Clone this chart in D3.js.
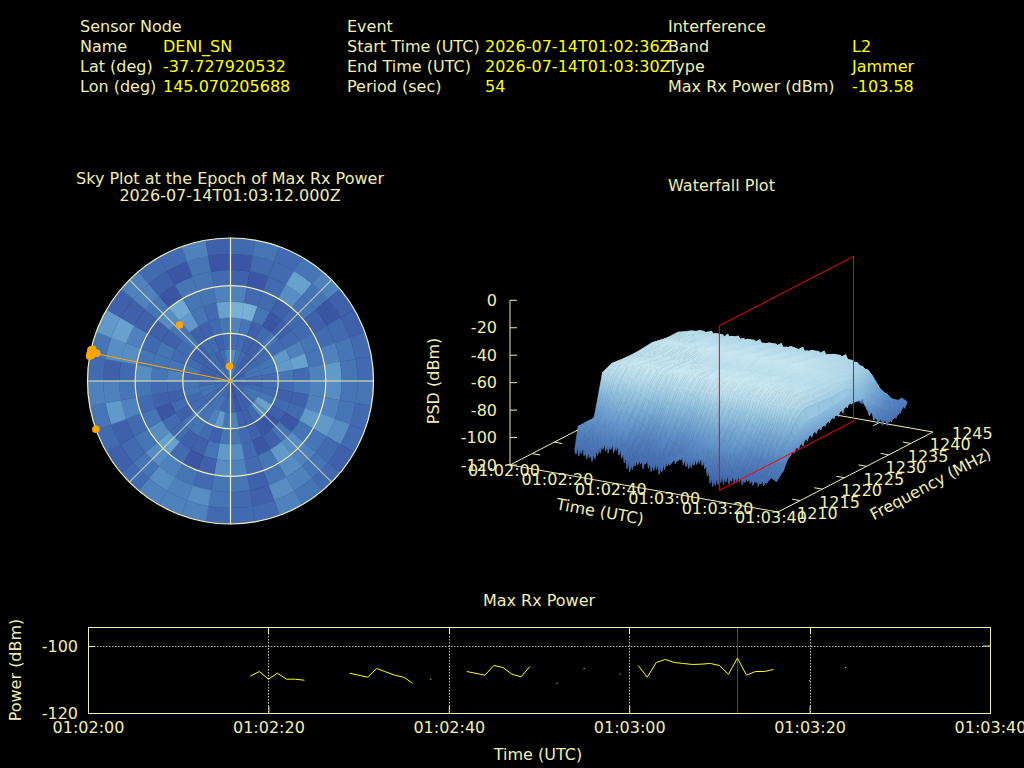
<!DOCTYPE html>
<html>
<head>
<meta charset="utf-8">
<script src="https://cdn.jsdelivr.net/npm/d3@7"></script>
<style>
html, body { margin: 0; padding: 0; background: #000; overflow: hidden; }
text { font-family: "DejaVu Sans", sans-serif; font-size: 16px; fill: #f0eeb0; }
</style>
</head>
<body>
<div id="chart"></div>
<script>
// header table
var headerCols = [
    [["Sensor Node", ""], ["Name", "DENI_SN"], ["Lat (deg)", "-37.727920532"], ["Lon (deg)", "145.070205688"]],
    [["Event", ""], ["Start Time (UTC)", "2026-07-14T01:02:36Z"], ["End Time (UTC)", "2026-07-14T01:03:30Z"], ["Period (sec)", "54"]],
    [["Interference", ""], ["Band", "L2"], ["Type", "Jammer"], ["Max Rx Power (dBm)", "-103.58"]]
];

// max rx power, seconds after 01:02:00
var powerSegments = [
    {t: [18, 19, 20, 21, 22, 23, 24], v: [-109.0, -107.6, -109.9, -108.1, -109.9, -109.9, -110.2]},
    {t: [29, 31, 32, 33, 34, 35, 36], v: [-108.1, -109.3, -106.7, -107.7, -108.7, -109.3, -111.1]},
    {t: [42, 44, 45, 46, 47, 48, 49], v: [-107.6, -108.7, -105.8, -106.4, -108.4, -109.2, -106.1]},
    {t: [61, 62, 63, 64, 65, 66, 67, 68, 69, 70, 71, 72, 73, 74, 75, 76],
     v: [-105.8, -109.3, -104.9, -104.0, -104.9, -105.2, -105.5, -105.4, -105.2, -105.8, -108.4, -103.6, -108.7, -107.6, -107.6, -107.0]}
];
var powerDotT = [38, 52, 55, 59, 80, 84];
var powerDotV = [-109.9, -111.1, -106.7, -108.4, -110.3, -106.4];
var maxEpoch = 72;

var timeTicks = [0, 20, 40, 60, 80, 100];
var timeLabels = ["01:02:00", "01:02:20", "01:02:40", "01:03:00", "01:03:20", "01:03:40"];
var psdTicks = [0, -20, -40, -60, -80, -100, -120];
var freqTicks = [1210, 1215, 1220, 1225, 1230, 1235, 1240, 1245];

// sky plot, one row per elevation band (centre first), one column per 10 deg of azimuth
var skyLevels = [
    [6,4,2,2,1,2,1,2,3,2,1,2,2,1,1,1,0,1,1,2,2,3,2,1,3,2,2,3,2,2,1,2,3,2,3,6],
    [5,3,2,1,1,2,3,3,2,1,2,3,3,2,1,1,0,1,2,2,3,3,2,2,3,3,2,2,1,1,1,2,2,1,2,4],
    [2,2,1,1,2,2,3,3,2,2,2,3,7,5,2,1,1,4,3,6,4,3,3,2,2,3,3,2,3,2,1,1,2,2,1,2],
    [4,3,1,2,3,2,6,6,3,2,1,2,1,0,0,1,2,3,3,1,2,3,3,1,2,1,2,4,3,2,2,3,1,1,2,3],
    [9,9,3,0,1,2,4,7,2,3,1,2,0,3,1,0,2,5,6,3,1,1,2,2,0,1,2,3,3,3,1,3,6,3,2,7],
    [4,2,2,1,2,2,3,3,4,4,4,6,3,5,6,3,2,4,5,1,0,2,7,5,3,2,3,5,3,2,1,5,8,3,3,4],
    [1,0,2,5,3,1,2,4,6,5,4,6,3,4,5,3,1,3,3,2,3,4,5,3,2,4,3,2,5,4,1,3,0,3,3,2],
    [0,2,2,7,3,0,2,3,3,3,3,5,2,3,4,5,1,2,3,5,4,5,3,2,1,6,4,1,5,7,1,4,1,0,3,0],
    [2,3,2,3,4,1,1,2,2,3,2,2,1,2,3,4,2,2,2,4,4,4,2,1,2,3,4,2,3,6,1,4,2,2,4,1]
];

// waterfall surface: PSD (dBm), one row per waterT, one column per waterFreq
var waterT = [18,19,20,21,22,23,24,25,26,27,28,29,30,31,32,33,34,35,36,37,38,39,40,41,42,43,44,45,46,47,48,49,50,51,52,53,54,55,
    56,57,58,59,60,61,62,63,64,65,66,67,68,69,70,71,72,73,74,75,76,77,78,79,80,81,82,83,84,85,86,87,88,89,90,91,92];
var waterFreq = [1214.5,1216,1217,1218,1219,1220,1222,1225,1228,1231,1234,1237,1240,1241,1242,1243,1244];
var waterPsd = [
    [-93,-93,-93,-94,-79,-63,-60,-61,-61,-60,-62,-62,-66,-70,-88,-100,-106],
    [-95,-92,-92,-91,-78,-64,-59,-60,-62,-59,-61,-63,-66,-68,-87,-99,-107],
    [-96,-92,-90,-89,-77,-64,-59,-60,-62,-59,-61,-63,-66,-68,-86,-99,-107],
    [-99,-94,-91,-87,-78,-66,-60,-61,-61,-60,-62,-62,-65,-67,-87,-101,-105],
    [-100,-93,-88,-85,-76,-65,-58,-61,-60,-60,-62,-61,-65,-68,-87,-101,-105],
    [-97,-90,-85,-82,-74,-64,-59,-59,-62,-58,-61,-62,-66,-69,-85,-100,-108],
    [-102,-95,-90,-85,-78,-68,-60,-60,-61,-59,-62,-63,-65,-66,-86,-99,-106],
    [-98,-91,-85,-80,-73,-65,-58,-59,-62,-58,-61,-62,-66,-69,-85,-100,-107],
    [-103,-96,-89,-84,-77,-68,-59,-60,-61,-59,-63,-62,-66,-67,-86,-98,-106],
    [-99,-91,-84,-79,-72,-64,-57,-59,-60,-58,-62,-63,-65,-70,-87,-100,-105],
    [-96,-88,-82,-77,-71,-63,-57,-60,-62,-58,-62,-63,-65,-67,-88,-101,-107],
    [-100,-92,-86,-81,-74,-66,-59,-60,-61,-59,-61,-62,-66,-69,-87,-99,-106],
    [-95,-89,-83,-78,-72,-65,-58,-59,-60,-59,-61,-62,-67,-66,-87,-99,-105],
    [-98,-91,-85,-79,-73,-65,-57,-60,-62,-58,-60,-63,-66,-69,-86,-100,-106],
    [-94,-86,-81,-76,-70,-62,-56,-60,-63,-57,-60,-64,-66,-67,-86,-100,-106],
    [-99,-92,-86,-80,-74,-66,-58,-59,-62,-58,-61,-63,-65,-69,-85,-98,-107],
    [-96,-88,-83,-78,-71,-63,-57,-59,-62,-58,-61,-63,-65,-66,-85,-98,-107],
    [-101,-94,-88,-82,-75,-67,-59,-58,-61,-59,-62,-62,-66,-70,-86,-99,-106],
    [-100,-92,-85,-80,-74,-66,-58,-58,-61,-58,-62,-62,-66,-67,-87,-99,-106],
    [-104,-97,-90,-84,-77,-69,-60,-59,-60,-59,-60,-64,-67,-70,-88,-100,-105],
    [-102,-95,-88,-82,-76,-68,-59,-59,-60,-59,-60,-64,-67,-68,-88,-100,-105],
    [-106,-99,-92,-86,-79,-71,-61,-60,-62,-57,-61,-63,-65,-70,-86,-101,-107],
    [-105,-98,-91,-85,-78,-69,-58,-60,-62,-57,-61,-63,-65,-67,-86,-101,-107],
    [-108,-101,-94,-88,-81,-72,-60,-58,-63,-58,-60,-62,-66,-69,-85,-99,-106],
    [-106,-100,-92,-86,-79,-70,-57,-58,-63,-58,-60,-62,-66,-66,-85,-99,-106],
    [-107,-99,-91,-84,-76,-67,-58,-59,-61,-59,-62,-64,-66,-70,-87,-98,-105],
    [-104,-96,-88,-82,-74,-66,-56,-59,-61,-59,-62,-64,-66,-68,-87,-98,-105],
    [-106,-98,-91,-85,-77,-69,-59,-60,-60,-58,-61,-63,-67,-69,-86,-100,-107],
    [-102,-95,-88,-82,-75,-67,-58,-60,-60,-58,-61,-63,-67,-67,-86,-100,-107],
    [-104,-97,-89,-83,-75,-66,-57,-58,-62,-57,-60,-62,-65,-70,-88,-99,-106],
    [-100,-92,-86,-80,-73,-65,-57,-58,-62,-57,-60,-62,-65,-67,-88,-99,-106],
    [-103,-96,-89,-83,-75,-67,-59,-59,-63,-58,-61,-64,-66,-69,-85,-101,-105],
    [-101,-94,-87,-81,-74,-66,-58,-59,-63,-58,-61,-64,-66,-66,-85,-101,-105],
    [-105,-98,-90,-84,-77,-69,-60,-60,-61,-59,-62,-63,-67,-70,-87,-100,-107],
    [-103,-96,-89,-83,-76,-68,-59,-60,-61,-59,-62,-63,-67,-68,-87,-100,-107],
    [-107,-100,-92,-86,-79,-71,-60,-58,-62,-57,-60,-62,-66,-69,-86,-98,-106],
    [-105,-98,-90,-85,-78,-69,-58,-58,-62,-57,-60,-62,-66,-67,-86,-98,-106],
    [-104,-97,-89,-83,-75,-65,-56,-59,-60,-58,-61,-64,-65,-70,-87,-99,-105],
    [-102,-95,-87,-81,-73,-64,-56,-59,-60,-58,-61,-64,-65,-68,-87,-99,-105],
    [-101,-94,-87,-81,-74,-65,-57,-60,-63,-59,-62,-63,-66,-69,-85,-101,-106],
    [-99,-92,-85,-79,-72,-63,-57,-60,-63,-59,-62,-63,-66,-66,-85,-101,-106],
    [-100,-93,-86,-79,-72,-63,-58,-58,-61,-57,-60,-62,-67,-70,-88,-100,-107],
    [-97,-90,-83,-77,-70,-62,-58,-58,-61,-57,-60,-62,-67,-68,-88,-100,-107],
    [-99,-92,-85,-79,-71,-62,-56,-59,-62,-58,-61,-63,-66,-69,-86,-99,-105],
    [-95,-88,-82,-76,-69,-60,-56,-59,-62,-58,-61,-63,-66,-67,-86,-99,-105],
    [-98,-91,-85,-79,-72,-62,-57,-60,-60,-59,-62,-64,-65,-70,-87,-98,-106],
    [-93,-87,-81,-76,-70,-61,-57,-60,-60,-59,-62,-64,-65,-67,-87,-98,-106],
    [-96,-90,-84,-78,-71,-61,-56,-58,-63,-57,-60,-62,-66,-69,-85,-100,-107],
    [-90,-85,-80,-75,-68,-60,-56,-58,-63,-57,-60,-62,-66,-66,-85,-100,-107],
    [-95,-89,-83,-77,-71,-62,-58,-59,-61,-58,-61,-63,-67,-70,-88,-101,-105],
    [-91,-86,-81,-75,-70,-62,-58,-59,-61,-58,-61,-63,-67,-68,-88,-101,-105],
    [-96,-90,-84,-78,-72,-64,-57,-60,-62,-59,-62,-64,-66,-69,-86,-99,-106],
    [-92,-87,-82,-77,-72,-63,-57,-60,-62,-59,-62,-64,-66,-67,-86,-99,-106],
    [-97,-91,-85,-80,-73,-64,-58,-58,-60,-57,-60,-62,-65,-70,-87,-100,-107],
    [-93,-88,-83,-78,-73,-62,-58,-58,-60,-57,-60,-62,-65,-67,-87,-100,-107],
    [-94,-88,-83,-77,-71,-61,-56,-59,-63,-58,-61,-63,-66,-69,-85,-98,-105],
    [-91,-85,-81,-75,-70,-60,-56,-59,-63,-58,-61,-63,-66,-66,-85,-98,-105],
    [-95,-89,-83,-78,-71,-62,-57,-60,-61,-59,-62,-64,-67,-70,-86,-99,-106],
    [-92,-86,-81,-76,-71,-61,-57,-60,-61,-59,-62,-64,-67,-72,-86,-99,-106],
    [-97,-91,-85,-79,-72,-63,-58,-59,-62,-60,-62,-63,-67,-74,-88,-100,-107],
    [-98,-90,-84,-78,-74,-63,-58,-59,-62,-60,-62,-63,-67,-73,-88,-100,-107],
    [-102,-95,-87,-81,-75,-64,-59,-60,-61,-60,-63,-65,-68,-76,-87,-101,-106],
    [-104,-95,-87,-82,-76,-64,-59,-60,-61,-60,-63,-65,-68,-75,-87,-101,-106],
    [-106,-98,-90,-84,-77,-66,-60,-61,-63,-61,-63,-66,-70,-77,-86,-99,-105],
    [-106,-97,-88,-83,-77,-66,-60,-61,-63,-61,-63,-66,-70,-78,-86,-99,-105],
    [-107,-99,-91,-84,-77,-65,-60,-60,-62,-62,-64,-67,-72,-76,-85,-98,-106],
    [-105,-96,-87,-82,-76,-65,-60,-60,-62,-62,-64,-67,-72,-78,-85,-98,-106],
    [-107,-100,-92,-85,-76,-66,-61,-62,-63,-63,-65,-69,-75,-82,-88,-98,-102],
    [-106,-98,-88,-82,-75,-66,-61,-62,-63,-63,-65,-72,-80,-85,-90,-97,-101],
    [-106,-99,-90,-84,-76,-68,-63,-64,-65,-65,-68,-74,-83,-87,-91,-97,-100],
    [-105,-98,-86,-82,-76,-68,-63,-64,-65,-66,-70,-76,-86,-89,-92,-97,-100],
    [-107,-100,-90,-85,-79,-72,-66,-67,-67,-67,-72,-79,-89,-92,-94,-97,-99],
    [-106,-100,-88,-84,-80,-74,-68,-69,-70,-69,-74,-82,-92,-94,-95,-98,-97],
    [-107,-102,-93,-89,-85,-81,-77,-77,-76,-74,-77,-90,-100,-100,-100,-100,-98],
    [-108,-103,-96,-93,-91,-90,-87,-85,-82,-79,-80,-100,-107,-106,-105,-102,-100]
];

// lower edge of the surface at the lowest frequency, every half second from 18 s
var edgeFreq = 1213.7;
var edgePsd = [
    -109,-112,-107,-113,-108,-111,-106,-112,-110,-114,-109,-113,-111,-115,-110,-113,
    -106,-110,-103,-108,-100,-105,-99,-106,-101,-107,-100,-104,-99,-106,-101,-104,
    -100,-107,-102,-109,-105,-112,-108,-116,-110,-118,-112,-116,-108,-113,-106,-112,
    -105,-111,-108,-114,-107,-110,-106,-113,-109,-115,-110,-114,-108,-113,-109,-116,
    -111,-114,-106,-112,-104,-109,-103,-108,-100,-105,-99,-106,-98,-104,-97,-103,
    -100,-106,-99,-107,-102,-108,-103,-107,-100,-105,-99,-104,-98,-103,-97,-104,
    -101,-106,-104,-111,-108,-116,-112,-118,-114,-117,-112,-116,-110,-114,-109,-115,
    -110,-113,-108,-114,-111,-112,-108,-113,-109,-112,-107,-111,-108,-113,-109,-111,
    -107,-110,-106,-111,-108,-112,-107,-110,-108,-112,-108,-110,-107,-111,-108,-109,-108
];
var edgeStartT = 18;
var edgeStepT = 0.5;

// lower edge along the last time row, every half MHz from 1214.5
var rearT = 92;
var rearStartF = 1214.5;
var rearStepF = 0.5;
var rearPsd = [
    -108,-106,-104,-103,-99,-96,-95,-92,-94,-90,-93,-89,-92,-87,-90,-86,-89,-85,-88,-84,
    -87,-84,-86,-82,-85,-81,-84,-80,-84,-79,-83,-78,-81,-77,-80,-76,-80,-77,-81,-79,
    -86,-90,-95,-93,-100,-97,-104,-100,-107,-102,-109,-104,-108,-103,-107,-102,-105,-100,-103,-99
];

// satellites: azimuth and elevation in degrees
var satAz = [317.7, 356, 250.3, 282.5, 280, 281.7, 281.4, 281.1, 283, 280.5];
var satEl = [42.3, 80.7, 0, 0, 0, 4, 2, 0, 1, 1];
var maxSatAz = 281.5;
var maxSatEl = 0;

var ink = "#f0eeb0";
var svg = d3.select("#chart").append("svg").attr("width", 1024).attr("height", 768).style("display", "block");
svg.append("rect").attr("width", 1024).attr("height", 768).attr("fill", "#000");
var defs = svg.append("defs");

function label(x, y, s, anchor, rotate, color) {
    var t = svg.append("text").attr("text-anchor", anchor || "start").text(s);
    t.attr("transform", "translate(" + x + "," + y + ")" + (rotate ? " rotate(" + rotate + ")" : ""));
    if (color) t.style("fill", color);
    return t;
}

//header
var colX = [[80, 163], [347, 485], [668, 852]];
headerCols.forEach(function(col, i) {
    col.forEach(function(row, j) {
        label(colX[i][0], 32 + j * 20, row[0]);
        if (row[1]) label(colX[i][1], 32 + j * 20, row[1], "start", 0, "#ffff00");
    });
});

//sky plot
label(230, 184, "Sky Plot at the Epoch of Max Rx Power", "middle");
label(230, 201, "2026-07-14T01:03:12.000Z", "middle");
label(721.5, 191, "Waterfall Plot", "middle");

var sky = svg.append("g").attr("transform", "translate(230.5,381)");
var elR = d3.scaleLinear().domain([90, 0]).range([0, 143]);
var azA = d3.scaleLinear().domain([0, 360]).range([0, 2 * Math.PI]);
var skyColor = d3.scaleLinear().domain([0, 3, 6, 9]).range(["#3b55a5", "#4675b6", "#6099ca", "#78b0d6"]);
var arc = d3.arc();
skyLevels.forEach(function(row, b) {
    row.forEach(function(v, a) {
        sky.append("path")
            .attr("d", arc({innerRadius: elR(90 - b * 10), outerRadius: elR(90 - (b + 1) * 10), startAngle: azA(a * 10), endAngle: azA((a + 1) * 10)}))
            .attr("fill", skyColor(v))
            .attr("stroke", skyColor(v))
            .attr("stroke-width", 0.5);
    });
});
[30, 60, 0].forEach(function(el) {
    sky.append("circle").attr("r", elR(el)).attr("fill", "none").attr("stroke", ink).attr("stroke-width", 1.2);
});
[0, 45, 90, 135].forEach(function(az) {
    var s = Math.sin(azA(az)) * elR(0), c = Math.cos(azA(az)) * elR(0);
    sky.append("line").attr("x1", -s).attr("y1", c).attr("x2", s).attr("y2", -c)
        .attr("stroke", ink).attr("stroke-width", 1.2).attr("stroke-opacity", az % 90 ? 0.7 : 1);
});
function skyPos(az, el) {
    return [Math.sin(azA(az)) * elR(el), -Math.cos(azA(az)) * elR(el)];
}
var maxPos = skyPos(maxSatAz, maxSatEl);
sky.append("line").attr("x1", 0).attr("y1", 0).attr("x2", maxPos[0]).attr("y2", maxPos[1]).attr("stroke", "#ffa500").attr("stroke-width", 1);
satAz.forEach(function(az, i) {
    var p = skyPos(az, satEl[i]);
    sky.append("circle").attr("cx", p[0]).attr("cy", p[1]).attr("r", 3.8).attr("fill", "#ffa500");
});
sky.append("circle").attr("r", 1.5).attr("fill", "#ffa500");

//waterfall: three scales give the screen offset of time, frequency and PSD
var ox = 510, oy = 465;
var tX = d3.scaleLinear().domain([0, 100]).range([0, 268]);
var tY = d3.scaleLinear().domain([0, 100]).range([0, 47]);
var fX = d3.scaleLinear().domain([1210, 1245]).range([0, 155]);
var fY = d3.scaleLinear().domain([1210, 1245]).range([0, -80]);
var zY = d3.scaleLinear().domain([-120, 0]).range([0, -164.7]);
function project(t, f, z) {
    return [ox + tX(t) + fX(f), oy + tY(t) + fY(f) + zY(z)];
}
var psdColor = d3.scaleLinear()
    .domain([-116, -104, -94, -84, -74, -66, -60, -56])
    .range(["#3f66ae", "#4a74b5", "#5a8ac3", "#74a6d2", "#93c2de", "#b0d6e8", "#c2e2ee", "#cdeaf2"]);
var wf = svg.append("g");

function segment(a, b, stroke) {
    wf.append("line").attr("x1", a[0]).attr("y1", a[1]).attr("x2", b[0]).attr("y2", b[1]).attr("stroke", stroke || ink).attr("stroke-width", 1);
}

// floor lines and ticks
segment(project(0, 1210, -120), project(100, 1210, -120));
segment(project(100, 1210, -120), project(100, 1245, -120));
segment(project(0, 1210, -120), project(0, 1245, -120));
segment(project(0, 1245, -120), project(100, 1245, -120));
segment(project(0, 1210, 0), project(0, 1210, -120));
psdTicks.forEach(function(v) {
    var p = project(0, 1210, v);
    segment(p, [p[0] + 7, p[1]]);
    label(p[0] - 13, p[1] + 5.5, v, "end");
});
timeTicks.forEach(function(v, i) {
    var p = project(v, 1210, -120);
    label(p[0] - 6 - i * 0.2, p[1] + 11, timeLabels[i], "middle");
    if (i > 0 && i < timeTicks.length - 1) {
        var q = project(v, 1245, -120);
        segment(q, project(v, 1243.6, -120));
    }
});
freqTicks.forEach(function(v) {
    var p = project(100, v, -120);
    label(p[0] + 19, p[1] + 7, v);
    if (v > 1210 && v < 1245) {
        segment(p, project(97, v, -120));
        segment(project(0, v, -120), project(3, v, -120));
    }
});
label(599, 517, "Time (UTC)", "middle", 10);
label(933, 489, "Frequency (MHz)", "middle", -28);
label(438.5, 381, "PSD (dBm)", "middle", -90);

var poly = d3.line();
var gradN = 0;
// quad shaded from the edge pts[0]-pts[1] (za) to the edge pts[2]-pts[3] (zb)
function quad(pts, za, zb) {
    var id = "g" + (gradN++);
    var g = defs.append("linearGradient").attr("id", id).attr("gradientUnits", "userSpaceOnUse")
        .attr("x1", (pts[0][0] + pts[1][0]) / 2).attr("y1", (pts[0][1] + pts[1][1]) / 2)
        .attr("x2", (pts[2][0] + pts[3][0]) / 2).attr("y2", (pts[2][1] + pts[3][1]) / 2);
    g.append("stop").attr("offset", 0).attr("stop-color", psdColor(za));
    g.append("stop").attr("offset", 1).attr("stop-color", psdColor(zb));
    wf.append("path").attr("d", poly(pts) + "Z").attr("fill", "url(#" + id + ")").attr("stroke", "url(#" + id + ")").attr("stroke-width", 0.6);
}
// paint from the far side forwards
for (var c = waterFreq.length - 2; c >= 0; c--) {
    for (var r = 0; r < waterT.length - 1; r++) {
        var z = [waterPsd[r][c], waterPsd[r + 1][c], waterPsd[r + 1][c + 1], waterPsd[r][c + 1]];
        quad([
            project(waterT[r], waterFreq[c], z[0]),
            project(waterT[r + 1], waterFreq[c], z[1]),
            project(waterT[r + 1], waterFreq[c + 1], z[2]),
            project(waterT[r], waterFreq[c + 1], z[3])
        ], (z[0] + z[1]) / 2, (z[2] + z[3]) / 2);
    }
}
// jagged strip along the last time row
var prevRow = d3.scaleLinear().domain(waterFreq).range(waterPsd[waterPsd.length - 2]);
rearPsd.forEach(function(v, i) {
    if (i == rearPsd.length - 1) return;
    var f0 = rearStartF + i * rearStepF, f1 = f0 + rearStepF;
    quad([
        project(rearT, f0, v),
        project(rearT, f1, rearPsd[i + 1]),
        project(rearT - 1, f1, prevRow(f1)),
        project(rearT - 1, f0, prevRow(f0))
    ], (v + rearPsd[i + 1]) / 2, (prevRow(f0) + prevRow(f1)) / 2);
});
// jagged front strip
var firstCol = d3.scaleLinear().domain(waterT).range(waterPsd.map(function(row) { return row[0]; }));
edgePsd.forEach(function(v, i) {
    if (i == edgePsd.length - 1) return;
    var t0 = edgeStartT + i * edgeStepT, t1 = t0 + edgeStepT;
    quad([
        project(t0, edgeFreq, v),
        project(t1, edgeFreq, edgePsd[i + 1]),
        project(t1, waterFreq[0], firstCol(t1)),
        project(t0, waterFreq[0], firstCol(t0))
    ], (v + edgePsd[i + 1]) / 2, (firstCol(t0) + firstCol(t1)) / 2);
});

// red plane at the epoch of max power
var planeF = [1213.7, 1244];
var a0 = project(maxEpoch, planeF[0], -120), a1 = project(maxEpoch, planeF[0], 0);
var b0 = project(maxEpoch, planeF[1], -120), b1 = project(maxEpoch, planeF[1], 0);
segment(a0, b0, "#ff0000");
segment(a0, a1, "#ff0000");
segment(a1, b1, "#ff0000");
segment(b1, b0, "#ff0000");

//max rx power strip
var px = d3.scaleLinear().domain([0, 100]).range([88, 990]);
var py = d3.scaleLinear().domain([-120, -94.3]).range([713, 627]);
var gridV = svg.append("g");
timeTicks.slice(1, 5).forEach(function(v) {
    gridV.append("line").attr("x1", Math.round(px(v)) + 0.5).attr("x2", Math.round(px(v)) + 0.5).attr("y1", 627).attr("y2", 713)
        .attr("stroke", "#bbbbbb").attr("stroke-dasharray", "1.5,1.5");
});
gridV.append("line").attr("x1", 88).attr("x2", 990).attr("y1", Math.round(py(-100)) + 0.5).attr("y2", Math.round(py(-100)) + 0.5)
    .attr("stroke", "#bbbbbb").attr("stroke-dasharray", "1.5,1.5");
svg.append("line").attr("x1", Math.round(px(maxEpoch)) + 0.5).attr("x2", Math.round(px(maxEpoch)) + 0.5).attr("y1", 627).attr("y2", 713).attr("stroke", "#ff0000");

var pline = d3.line().x(function(d) { return px(d[0]); }).y(function(d) { return py(d[1]); });
powerSegments.forEach(function(s) {
    svg.append("path").attr("d", pline(d3.zip(s.t, s.v))).attr("fill", "none").attr("stroke", "#ffff00").attr("stroke-width", 1);
});
powerDotT.forEach(function(t, i) {
    svg.append("rect").attr("x", px(t) - 0.5).attr("y", py(powerDotV[i]) - 0.5).attr("width", 1).attr("height", 1).attr("fill", "#ffff00");
});

var xAxis = d3.axisBottom(px).tickValues(timeTicks).tickFormat(function(d, i) { return timeLabels[i]; }).tickSize(-7).tickPadding(9);
var yAxis = d3.axisLeft(py).tickValues([-100, -120]).tickFormat(function(d) { return String(d); }).tickSize(-7).tickPadding(10);
var gx = svg.append("g").attr("transform", "translate(0,713)").call(xAxis);
var gy = svg.append("g").attr("transform", "translate(88,0)").call(yAxis);
[gx, gy].forEach(function(g) {
    g.selectAll(".domain").remove();
    g.selectAll("line").attr("stroke", ink);
    g.attr("font-family", null).attr("font-size", null);
    g.selectAll("text").attr("fill", null);
});
timeTicks.slice(1, 5).forEach(function(v) {
    svg.append("line").attr("x1", Math.round(px(v)) + 0.5).attr("x2", Math.round(px(v)) + 0.5).attr("y1", 627).attr("y2", 634).attr("stroke", ink);
});
svg.append("line").attr("x1", 983).attr("x2", 990).attr("y1", py(-100)).attr("y2", py(-100)).attr("stroke", ink);
svg.append("rect").attr("x", 88.5).attr("y", 627.5).attr("width", 902).attr("height", 86).attr("fill", "none").attr("stroke", ink);

label(539, 606, "Max Rx Power", "middle");
label(538, 760, "Time (UTC)", "middle");
label(20.5, 670, "Power (dBm)", "middle", -90);
</script>
</body>
</html>
